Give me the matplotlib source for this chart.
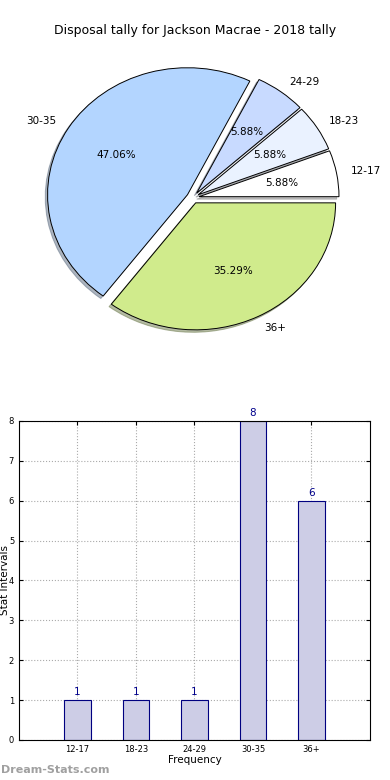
import matplotlib
matplotlib.use('Agg')
import matplotlib.pyplot as plt

# data
labels = ['12-17', '18-23', '24-29', '30-35', '36+']
counts = [1, 1, 1, 8, 6]
pie_colors = ['#ffffff', '#eaf2ff', '#c8daff', '#b3d5ff', '#d0eb8c']
title = 'Disposal tally for Jackson Macrae - 2018 tally'

fig = plt.figure(figsize=(3.9, 7.8), dpi=100)

# pie
ax1 = fig.add_axes([0.046, 0.543, 0.897, 0.407])
ax1.pie(counts, labels=labels, colors=pie_colors, explode=[0.045] * 5,
        autopct='%1.2f%%', shadow={'ox': -0.012, 'oy': -0.014, 'shade': 0.5},
        startangle=0,
        wedgeprops={'edgecolor': 'black', 'linewidth': 0.7},
        textprops={'fontsize': 7.5})
ax1.set_aspect('auto')
ax1.set_xlim(-1.25, 1.25)
ax1.set_ylim(-1.25, 1.25)
fig.text(0.5, 0.9615, title, ha='center', va='center', fontsize=9)

# bar chart
ax2 = fig.add_axes([0.0487, 0.0513, 0.9, 0.409])
x = list(range(len(labels)))
ax2.bar(x, counts, width=0.45, color='#cdcde6', edgecolor='#000080', linewidth=0.8, zorder=2)
for xi, c in zip(x, counts):
    ax2.text(xi, c + 0.08, str(c), ha='center', va='bottom', fontsize=7.5, color='#00008b')
ax2.set_xlim(-1, 5)
ax2.set_ylim(0, 8)
ax2.set_xticks(x)
ax2.set_xticklabels(labels)
ax2.set_yticks(range(9))
ax2.tick_params(direction='in', top=True, right=True, labelsize=6, length=3)
ax2.grid(True, linestyle=':', color='#aaaaaa', linewidth=0.8, zorder=0)
ax2.set_xlabel('Frequency', fontsize=7.5, labelpad=1)
ax2.set_ylabel('Stat Intervals', fontsize=7.5)
ax2.yaxis.set_label_coords(-0.025, 0.5)

fig.text(0.003, 0.0128, 'Dream-Stats.com', ha='left', va='center', fontsize=8,
         color='#a0a0a0', fontweight='bold')

fig.savefig('out.png', dpi=100)
